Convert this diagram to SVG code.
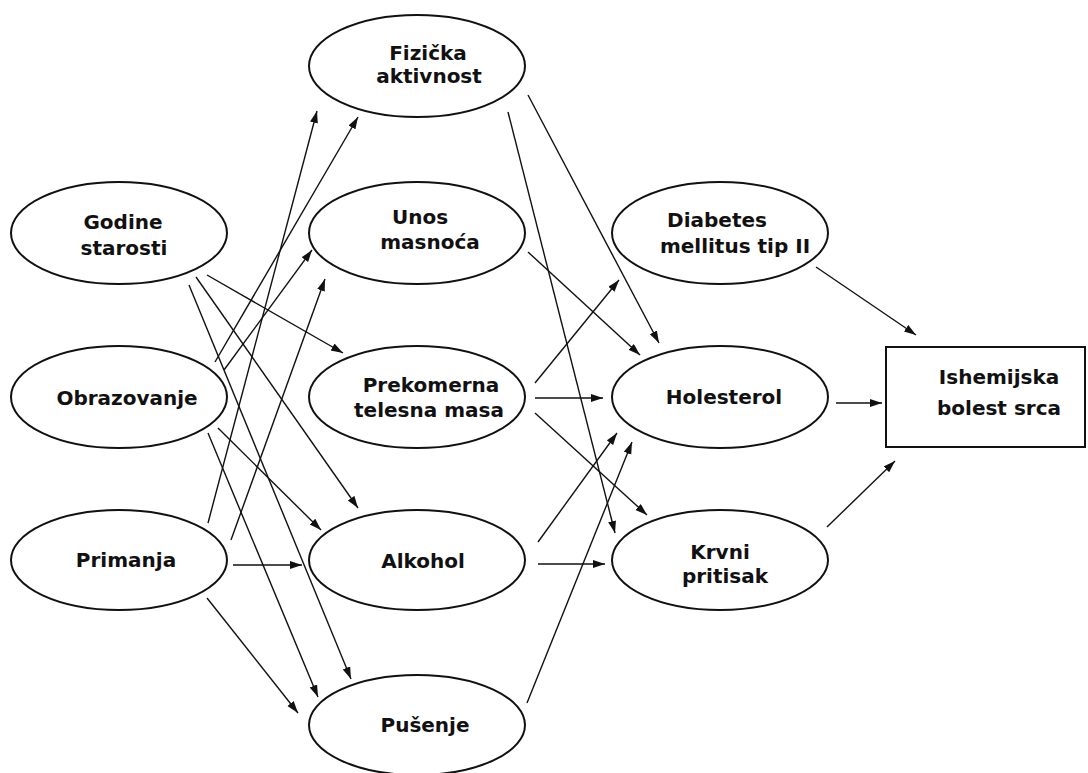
<svg xmlns="http://www.w3.org/2000/svg" width="1088" height="773" viewBox="0 0 1088 773">
<style>
.n ellipse,.n rect{fill:#fff;stroke:#111;stroke-width:2}
.n text{font-family:"DejaVu Sans","Liberation Sans",sans-serif;font-weight:bold;font-size:20px;fill:#111;text-anchor:middle}
.c line{stroke:#111;stroke-width:1.4;marker-end:url(#a)}
</style>
<defs>
<marker id="a" markerUnits="userSpaceOnUse" markerWidth="13" markerHeight="9" refX="12" refY="4" orient="auto">
<path d="M0,0 L12,4 L0,8 z" fill="#111"/>
</marker>
</defs>
<rect width="1088" height="773" fill="#fff"/>
<g class="c" id="connectors">
<line x1="207" y1="275" x2="343" y2="353"/>
<line x1="196" y1="277" x2="358" y2="508"/>
<line x1="189" y1="285" x2="351" y2="679"/>
<line x1="215" y1="362" x2="358" y2="117"/>
<line x1="224" y1="370" x2="312" y2="250"/>
<line x1="218" y1="428" x2="321" y2="530"/>
<line x1="208" y1="433" x2="318" y2="697"/>
<line x1="208" y1="523" x2="317" y2="111"/>
<line x1="231" y1="540" x2="325" y2="279"/>
<line x1="233" y1="565" x2="302" y2="565"/>
<line x1="207" y1="598" x2="298" y2="713"/>
<line x1="528" y1="95" x2="659" y2="343"/>
<line x1="508" y1="112" x2="615" y2="533"/>
<line x1="528" y1="252" x2="640" y2="355"/>
<line x1="535" y1="383" x2="619" y2="280"/>
<line x1="535" y1="398" x2="603" y2="398"/>
<line x1="535" y1="413" x2="647" y2="515"/>
<line x1="538" y1="542" x2="617" y2="433"/>
<line x1="538" y1="564" x2="605" y2="564"/>
<line x1="527" y1="703" x2="632" y2="442"/>
<line x1="816" y1="267" x2="916" y2="335"/>
<line x1="836" y1="403" x2="882" y2="403"/>
<line x1="827" y1="527" x2="895" y2="461"/>
</g>
<g class="n" id="fizicka"><ellipse cx="417" cy="66" rx="108" ry="51"/><text x="428" y="60">Fizička</text><text x="429" y="83">aktivnost</text></g>
<g class="n" id="godine"><ellipse cx="119" cy="233" rx="108" ry="51"/><text x="123" y="229">Godine</text><text x="124" y="255">starosti</text></g>
<g class="n" id="unos"><ellipse cx="417" cy="233" rx="108" ry="51"/><text x="420" y="224">Unos</text><text x="430" y="249">masnoća</text></g>
<g class="n" id="diabetes"><ellipse cx="720" cy="233" rx="108" ry="51"/><text x="717" y="227">Diabetes</text><text x="735" y="253">mellitus tip II</text></g>
<g class="n" id="obrazovanje"><ellipse cx="119" cy="397" rx="108" ry="51"/><text x="127" y="405">Obrazovanje</text></g>
<g class="n" id="prekomerna"><ellipse cx="417" cy="397" rx="108" ry="51"/><text x="431" y="392">Prekomerna</text><text x="429" y="417">telesna masa</text></g>
<g class="n" id="holesterol"><ellipse cx="720" cy="397" rx="108" ry="51"/><text x="724" y="404">Holesterol</text></g>
<g class="n" id="ishemijska"><rect x="886" y="347" width="199" height="100"/><text x="999" y="384">Ishemijska</text><text x="999" y="415">bolest srca</text></g>
<g class="n" id="primanja"><ellipse cx="119" cy="560" rx="108" ry="50"/><text x="126" y="567">Primanja</text></g>
<g class="n" id="alkohol"><ellipse cx="417" cy="560" rx="108" ry="50"/><text x="423" y="568">Alkohol</text></g>
<g class="n" id="krvni"><ellipse cx="720" cy="560" rx="108" ry="50"/><text x="720" y="559">Krvni</text><text x="725" y="583">pritisak</text></g>
<g class="n" id="pusenje"><ellipse cx="417" cy="725" rx="108" ry="50"/><text x="425" y="732">Pušenje</text></g>
</svg>
